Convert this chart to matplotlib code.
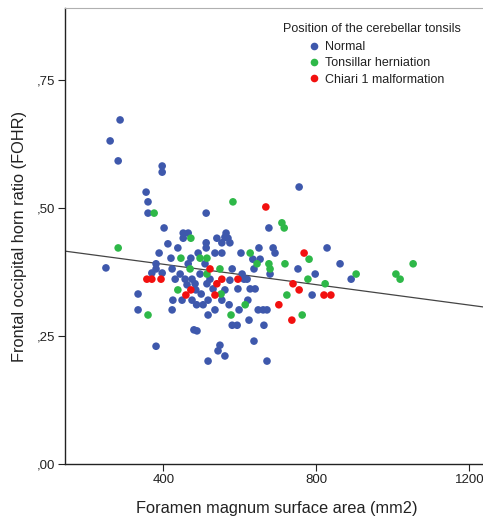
import matplotlib
matplotlib.use("Agg")
import matplotlib.pyplot as plt
from matplotlib.lines import Line2D
import numpy as np

plt.rcParams['font.family'] = ['Liberation Sans', 'DejaVu Sans']

# ---- data ----
normal_x = [287, 261, 282, 397, 397, 355, 360, 360, 402, 250, 412, 438, 389, 420, 472,
            381, 381, 370, 397, 423, 431, 444, 457, 462, 475, 334, 425, 449, 475, 334,
            423, 480, 381, 452, 465, 452, 512, 512, 512, 540, 564, 561, 569, 553, 574,
            491, 535, 553, 603, 650, 634, 653, 687, 692, 676, 755, 828, 752, 797, 862,
            891, 789, 637, 679, 580, 611, 619, 606, 595, 627, 640, 621, 572, 598, 648,
            661, 671, 517, 624, 580, 593, 663, 488, 637, 548, 543, 561, 517, 671, 522,
            514, 499, 517, 553, 487, 485, 496, 483, 465, 509, 530, 561, 574, 504, 535]
normal_y = [0.672, 0.631, 0.592, 0.582, 0.570, 0.531, 0.512, 0.490, 0.461, 0.383, 0.430, 0.422,
            0.412, 0.402, 0.402, 0.391, 0.381, 0.373, 0.373, 0.381, 0.361, 0.371, 0.361, 0.350,
            0.361, 0.332, 0.320, 0.320, 0.320, 0.301, 0.301, 0.262, 0.230, 0.451, 0.451, 0.441,
            0.490, 0.432, 0.422, 0.441, 0.451, 0.443, 0.441, 0.432, 0.432, 0.412, 0.412, 0.412,
            0.412, 0.422, 0.400, 0.400, 0.422, 0.412, 0.461, 0.541, 0.422, 0.381, 0.371, 0.391,
            0.361, 0.330, 0.381, 0.371, 0.381, 0.361, 0.361, 0.371, 0.342, 0.342, 0.342, 0.320,
            0.311, 0.301, 0.301, 0.301, 0.301, 0.291, 0.281, 0.271, 0.271, 0.271, 0.260, 0.240,
            0.232, 0.221, 0.211, 0.201, 0.201, 0.361, 0.352, 0.332, 0.320, 0.320, 0.311, 0.340,
            0.371, 0.352, 0.391, 0.391, 0.342, 0.340, 0.359, 0.311, 0.301]

hern_x = [376, 282, 582, 710, 716, 472, 496, 514, 446, 627, 645, 676, 679, 718, 781, 778,
          904, 1008, 1019, 1053, 823, 723, 763, 614, 577, 551, 548, 514, 470, 438, 360]
hern_y = [0.490, 0.422, 0.512, 0.471, 0.461, 0.441, 0.402, 0.402, 0.402, 0.412, 0.391, 0.391,
          0.381, 0.391, 0.400, 0.361, 0.371, 0.371, 0.361, 0.391, 0.352, 0.330, 0.291, 0.311,
          0.291, 0.332, 0.381, 0.371, 0.381, 0.340, 0.291]

chiari_x = [668, 768, 736, 702, 739, 755, 820, 838, 357, 370, 394, 459, 472, 522, 553, 540, 535, 595]
chiari_y = [0.502, 0.412, 0.281, 0.311, 0.352, 0.340, 0.330, 0.330, 0.361, 0.361, 0.361, 0.330,
            0.340, 0.381, 0.361, 0.352, 0.330, 0.361]

groups = ["Normal", "Tonsillar herniation", "Chiari 1 malformation"]
fit_intercept = 0.430
fit_slope = -0.0000997

x_ticks = [400, 800, 1200]
x_ticklabels = ["400", "800", "1200"]
y_ticks = [0.0, 0.25, 0.50, 0.75]
y_ticklabels = [",00", ",25", ",50", ",75"]

colors = ["#3E58AC", "#2EB848", "#F2100F"]

# ---- figure ----
fig = plt.figure(figsize=(4.83, 5.19), dpi=100)
ax = fig.add_axes([65/483, 55/519, 423.5/483, 456/519])
ax.set_xlim(143, 1250)
ax.set_ylim(0, 0.8906)

for xs, ys, c in [(normal_x, normal_y, colors[0]), (hern_x, hern_y, colors[1]),
                  (chiari_x, chiari_y, colors[2])]:
    ax.scatter(xs, ys, s=30, color=c, edgecolors='none', zorder=3)

xl = np.array(ax.get_xlim())
ax.plot(xl, fit_intercept + fit_slope * xl, color="#444444", lw=0.9, zorder=2)

ax.set_xticks(x_ticks)
ax.set_xticklabels(x_ticklabels)
ax.set_yticks(y_ticks)
ax.set_yticklabels(y_ticklabels)
ax.tick_params(direction='out', length=5, width=0.8, labelsize=9.5, colors='#222222', pad=2)

for s in ['left', 'bottom']:
    ax.spines[s].set_color('#222222')
    ax.spines[s].set_linewidth(1.0)
ax.spines['top'].set_color('#b0b0b0')
ax.spines['right'].set_visible(False)

ax.set_xlabel("Foramen magnum surface area (mm2)", fontsize=11.8, color='#222222', labelpad=11)
ax.set_ylabel("Frontal occipital horn ratio (FOHR)", fontsize=11.8, color='#222222', labelpad=7)

handles = [Line2D([], [], ls='none', marker='o', ms=5.5, mec='none', mfc=c) for c in colors]
fig.text(283/483, 1 - 29/519, "Position of the cerebellar tonsils", fontsize=9,
         ha='left', va='center', color='#222222')
leg = fig.legend(handles, groups, loc='upper left', bbox_to_anchor=(309/483, 1 - 41/519),
                 frameon=False, fontsize=9, handlelength=0.8, handletextpad=0.5,
                 labelspacing=0.35, borderpad=0, borderaxespad=0)
for t in leg.get_texts():
    t.set_color('#222222')

fig.savefig("out.png", dpi=100)
